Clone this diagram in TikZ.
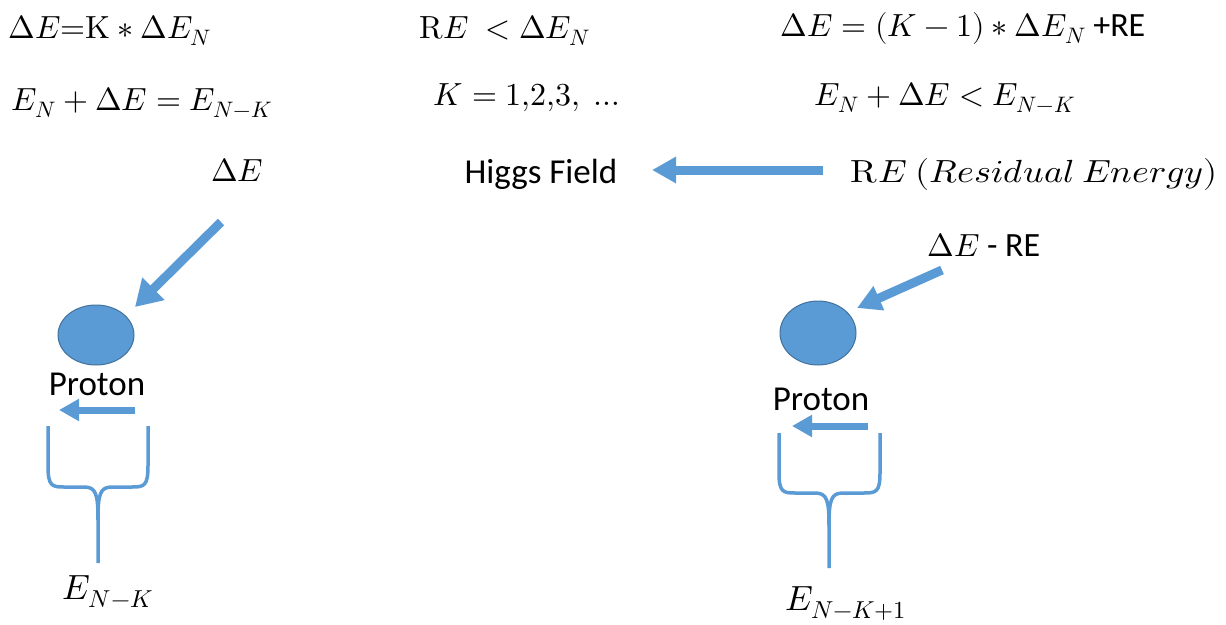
\documentclass[tikz,border=0pt]{standalone}
\usepackage{fontspec}
\usepackage{unicode-math}
\setmainfont{Carlito}
\setmathfont{Latin Modern Math}
\usetikzlibrary{arrows.meta,shapes.geometric}
\definecolor{ablue}{HTML}{5B9BD5}
\definecolor{edgeblue}{HTML}{41719C}
\newcommand{\txtbig}[1]{{\fontsize{34}{40}\selectfont #1}}
\tikzset{
  eqn/.style={anchor=base, inner sep=0pt, font=\fontsize{32}{38}\selectfont},
  lbl/.style={anchor=base, inner sep=0pt, font=\fontsize{35}{42}\selectfont},
  big/.style={anchor=base, inner sep=0pt, font=\fontsize{35}{42}\selectfont},
  fatarrow/.style={draw=ablue, line width=9pt, -{Triangle[width=30pt,length=26pt]}},
  midarrow/.style={draw=ablue, line width=9pt, -{Triangle[width=25pt,length=24pt]}},
  smallarrow/.style={draw=ablue, line width=7pt, -{Triangle[width=21pt,length=20pt]}},
  proton/.style={ellipse, fill=ablue, draw=edgeblue, line width=1pt, inner sep=0pt},
  bracket/.style={draw=ablue, line width=3.5pt, line join=round}
}
\begin{document}
\begin{tikzpicture}[x=1pt,y=-1pt]
\useasboundingbox (0,0) rectangle (1226,624);
% equations
\node[eqn] (eq1) at (110,38) {$\Delta E{=}\symup{K}\ast\Delta E_N$};
\node[eqn] (eq2) at (142,110) {$E_N+\Delta E=E_{N-K}$};
\node[eqn] (eq3) at (505,38) {$\symup{R}E\ <\Delta E_N$};
\node[eqn] (eq4) at (527,105) {$K=1{,}2{,}3{,}\ \ldots$};
\node[eqn] (eq5) at (963,36) {$\Delta E=(K-1)\ast\Delta E_N$ \txtbig{+RE}};
\node[eqn] (eq6) at (945,105) {$E_N+\Delta E<E_{N-K}$};
% Higgs field
\node[lbl] (higgs) at (541,183) {Higgs Field};
\node[eqn] (re) at (1034,182) {\scalebox{1.13}[1]{$\symup{R}E\ (Residual\ Energy)$}};
\coordinate (reT) at (823,170);
\coordinate (hgT) at (652,170);
\draw[midarrow] (reT) -- (hgT);
% left proton
\node[eqn] (dEL) at (237,181) {$\Delta E$};
\node[proton, minimum width=76pt, minimum height=60pt] (pL) at (96,335) {};
\coordinate (dELt) at (221,222);
\coordinate (dELh) at (135,307);
\draw[fatarrow] (dELt) -- (dELh);
\node[lbl] (protL) at (97,395) {Proton};
\coordinate (aLt) at (135,410);
\coordinate (aLh) at (59,410);
\draw[smallarrow] (aLt) -- (aLh);
\draw[bracket] (48,426) -- (48,466) .. controls (48,486) and (52,487) .. (64,487) -- (84,487)
  .. controls (96,487) and (98,494) .. (98,520) -- (98,563);
\draw[bracket] (148,426) -- (148,466) .. controls (148,486) and (144,487) .. (132,487) -- (112,487)
  .. controls (100,487) and (98,494) .. (98,520);
\node[big] (ENK) at (108,599) {$E_{N-K}$};
% right proton
\node[eqn] (dER) at (984,256) {$\Delta E$ \txtbig{- RE}};
\node[proton, minimum width=76pt, minimum height=64pt] (pR) at (818,333) {};
\coordinate (dERt) at (942,270);
\coordinate (dERh) at (857,308);
\draw[midarrow] (dERt) -- (dERh);
\node[lbl] (protR) at (821,410) {Proton};
\coordinate (aRt) at (868,426);
\coordinate (aRh) at (792,426);
\draw[smallarrow] (aRt) -- (aRh);
\draw[bracket] (779,433) -- (779,473) .. controls (779,492) and (783,493) .. (795,493) -- (815,493)
  .. controls (827,493) and (829,500) .. (829,526) -- (829,568);
\draw[bracket] (880,433) -- (880,473) .. controls (880,492) and (876,493) .. (864,493) -- (843,493)
  .. controls (831,493) and (829,500) .. (829,526);
\node[big] (ENK1) at (846,610) {$E_{N-K+1}$};
\end{tikzpicture}
\end{document}
